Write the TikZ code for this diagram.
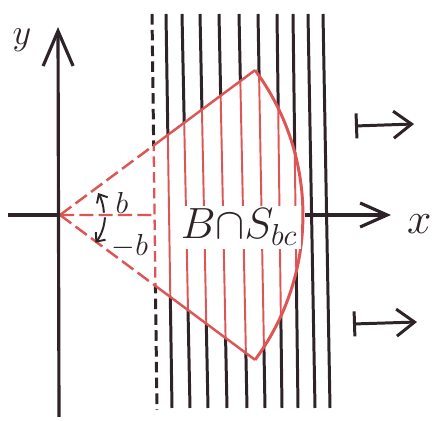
\documentclass[tikz,border=0pt]{standalone}
\usepackage{amsmath,amssymb}
\usepackage{tikz}
\usetikzlibrary{positioning, arrows.meta, calc}

\definecolor{pen}{RGB}{45,35,40}
\definecolor{redpen}{RGB}{222,85,85}

\begin{document}
\begin{tikzpicture}[
  x=0.02cm, y=-0.02cm,
  axisline/.style={draw=pen, line width=1.8pt},
  axis/.style={axisline, -{Straight Barb[length=0.54cm, width=0.48cm]}},
  yaxis/.style={axisline, -{Straight Barb[length=0.70cm, width=0.60cm]}},
  hatch/.style={draw=pen, line width=1.7pt},
  hatchred/.style={draw=redpen, line width=1.1pt},
  wall/.style={draw=pen, line width=1.7pt, dash pattern=on 6pt off 3pt},
  wallred/.style={draw=redpen, line width=1.3pt, dash pattern=on 6pt off 3pt},
  rim/.style={draw=redpen, line width=1.4pt},
  dashray/.style={rim, dash pattern=on 8pt off 3pt},
  angarr/.style={draw=pen, line width=1.1pt, -{Straight Barb[length=4pt, width=7pt]}},
  mapsto/.style={draw=pen, line width=1.7pt,
    {Bar[width=0.5cm]}-{Straight Barb[length=0.36cm, width=0.54cm]}},
  lbl/.style={text=pen, inner sep=0pt},
]
  \useasboundingbox (0,0) rectangle (443,421);

  % Origin, dashed boundary and sector corners
  \coordinate (O) at (60,215);
  \coordinate (wt) at (152,14);
  \coordinate (wb) at (157,410);
  \coordinate (P) at ($(O)+(36.6:4.86cm)$);
  \coordinate (Q) at ($(O)+(-36.6:4.86cm)$);
  \coordinate (Pw) at (intersection of O--P and wt--wb);
  \coordinate (Qw) at (intersection of O--Q and wt--wb);
  \coordinate (Ow) at (intersection of O--{(300,215)} and wt--wb);

  % Strip lines
  \draw[wall] (wt) -- (wb);
  \foreach \xt/\xb in {166/172, 182/190, 200/208, 219/227, 239/247,
                       258/265, 277/282, 293/298, 308/315, 323/330}
    \draw[hatch] (\xt,14) -- (\xb,408);

  % Sector B: lines turn red inside
  \fill[white] (O) -- (P) arc[start angle=36.6, end angle=-36.6, radius=4.86cm] -- cycle;
  \begin{scope}
    \clip (O) -- (P) arc[start angle=36.6, end angle=-36.6, radius=4.86cm] -- cycle;
    \draw[wallred] (wt) -- (wb);
    \foreach \xt/\xb in {166/172, 182/190, 200/208, 219/227, 239/247,
                         258/265, 277/282, 293/298}
      \draw[hatchred] (\xt,14) -- (\xb,408);
  \end{scope}

  % Sector boundary
  \draw[dashray] (O) -- (Pw);
  \draw[dashray] (O) -- (Qw);
  \draw[dashray] (O) -- (Ow);
  \draw[rim] (Pw) -- (P);
  \draw[rim] (Qw) -- (Q);
  \draw[rim, line width=1.7pt] (P) arc[start angle=36.6, end angle=-36.6, radius=4.86cm];

  % Axes
  \coordinate (ybot) at (59,417);
  \coordinate (ytip) at (58,27);
  \coordinate (xl) at (8,215);
  \coordinate (xs) at (305,215);
  \coordinate (xtip) at (391,215);
  \draw[yaxis] (ybot) -- (ytip);
  \draw[axisline] (xl) -- (O);
  \draw[axis] (xs) -- (xtip);
  \node[lbl, font=\fontsize{22}{24}\selectfont] (ylab) at (22,40) {$y$};
  \node[lbl, font=\fontsize{28}{30}\selectfont, right=9pt of xtip, yshift=-5pt] (xlab) {$x$};

  % Angle marks
  \draw[angarr] ($(O)+(3:0.88cm)$) arc[start angle=3, end angle=30, radius=0.88cm];
  \draw[angarr] ($(O)+(-3:0.9cm)$) arc[start angle=-3, end angle=-38, radius=0.9cm];
  \node[lbl, font=\fontsize{16}{18}\selectfont] (bup) at (122,203) {$b$};
  \node[lbl, font=\fontsize{16}{18}\selectfont] (bdn) at (130,246) {$-b$};

  % Set label
  \node[lbl, fill=white, inner sep=2pt, anchor=base west,
        font=\fontsize{24}{26}\selectfont] (set) at (177,239) {$B{\cap}S_{bc}$};

  % Shift arrows
  \coordinate (m1s) at (355,126);
  \coordinate (m1e) at (414,124);
  \coordinate (m2s) at (353,324);
  \coordinate (m2e) at (417,322);
  \draw[mapsto] (m1s) -- (m1e);
  \draw[mapsto] (m2s) -- (m2e);
\end{tikzpicture}
\end{document}
